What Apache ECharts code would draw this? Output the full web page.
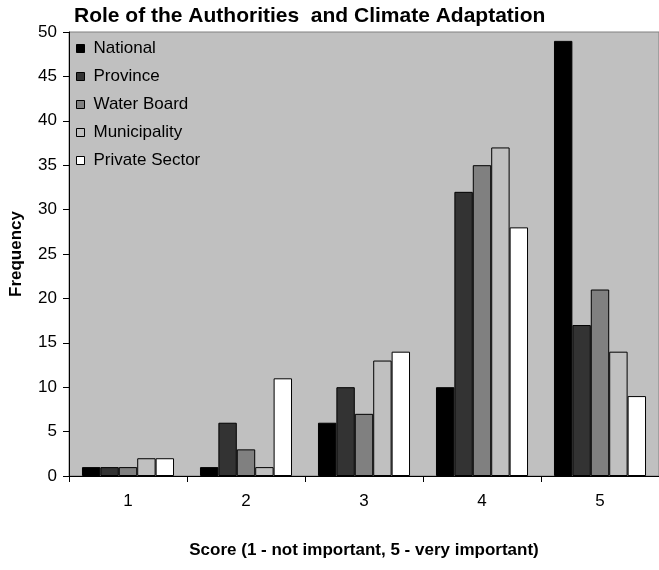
<!DOCTYPE html>
<html>
<head>
<meta charset="utf-8">
<script src="https://cdn.jsdelivr.net/npm/echarts@6/dist/echarts.min.js"></script>
<style>html,body{margin:0;padding:0;background:#fff}#c{width:659px;height:570px}</style>
</head>
<body>
<div id="c"></div>
<script>
var categories = ['1', '2', '3', '4', '5'];
var seriesNames = ['National', 'Province', 'Water Board', 'Municipality', 'Private Sector'];
var national = [1, 1, 6, 10, 49];
var province = [1, 6, 10, 32, 17];
var waterBoard = [1, 3, 7, 35, 21];
var municipality = [2, 1, 13, 37, 14];
var privateSector = [2, 11, 14, 28, 9];
var yTicks = [0, 50, 5];
var colors = ['#000000', '#333333', '#808080', '#c0c0c0', '#ffffff'];

var values = [national, province, waterBoard, municipality, privateSector];
var font = 'Arial, "Liberation Sans", sans-serif';
var chart = echarts.init(document.getElementById('c'), null, {renderer: 'canvas'});
chart.setOption({
  backgroundColor: '#ffffff',
  animation: false,
  title: {
    text: 'Role of the Authorities  and Climate Adaptation',
    left: 69, top: 1,
    textStyle: {fontFamily: font, fontSize: 21, fontWeight: 'bold', color: '#000'}
  },
  legend: {
    orient: 'vertical', left: 71, top: 35,
    itemWidth: 8, itemHeight: 8, itemGap: 11,
    icon: 'rect',
    data: seriesNames,
    itemStyle: {borderColor: '#000', borderWidth: 1},
    textStyle: {fontFamily: font, fontSize: 17, color: '#000', padding: [0, 0, 0, 4]}
  },
  grid: {
    left: 69, top: 32, width: 594, height: 444,
    show: true, backgroundColor: '#c0c0c0', borderColor: '#808080', borderWidth: 1
  },
  xAxis: {
    type: 'category', data: categories,
    name: 'Score (1 - not important, 5 - very important)',
    nameLocation: 'middle', nameGap: 66,
    nameTextStyle: {fontFamily: font, fontSize: 17, fontWeight: 'bold', color: '#000'},
    axisLine: {lineStyle: {color: '#000', width: 1}},
    axisTick: {show: true, length: 6, lineStyle: {color: '#000'}},
    axisLabel: {fontFamily: font, fontSize: 17, color: '#000', margin: 17}
  },
  yAxis: {
    type: 'value', min: yTicks[0], max: yTicks[1], interval: yTicks[2],
    name: 'Frequency', nameLocation: 'middle', nameGap: 44,
    nameTextStyle: {fontFamily: font, fontSize: 17, fontWeight: 'bold', color: '#000'},
    axisLine: {show: true, lineStyle: {color: '#000', width: 1}},
    axisTick: {show: true, length: 6, lineStyle: {color: '#000'}},
    splitLine: {show: false},
    axisLabel: {fontFamily: font, fontSize: 17, color: '#000', margin: 12}
  },
  series: seriesNames.map(function (n, i) {
    return {
      name: n, type: 'bar', data: values[i],
      barGap: '0%', barCategoryGap: '22%',
      itemStyle: {color: colors[i], borderColor: '#000', borderWidth: 1}
    };
  })
});
</script>
</body>
</html>
